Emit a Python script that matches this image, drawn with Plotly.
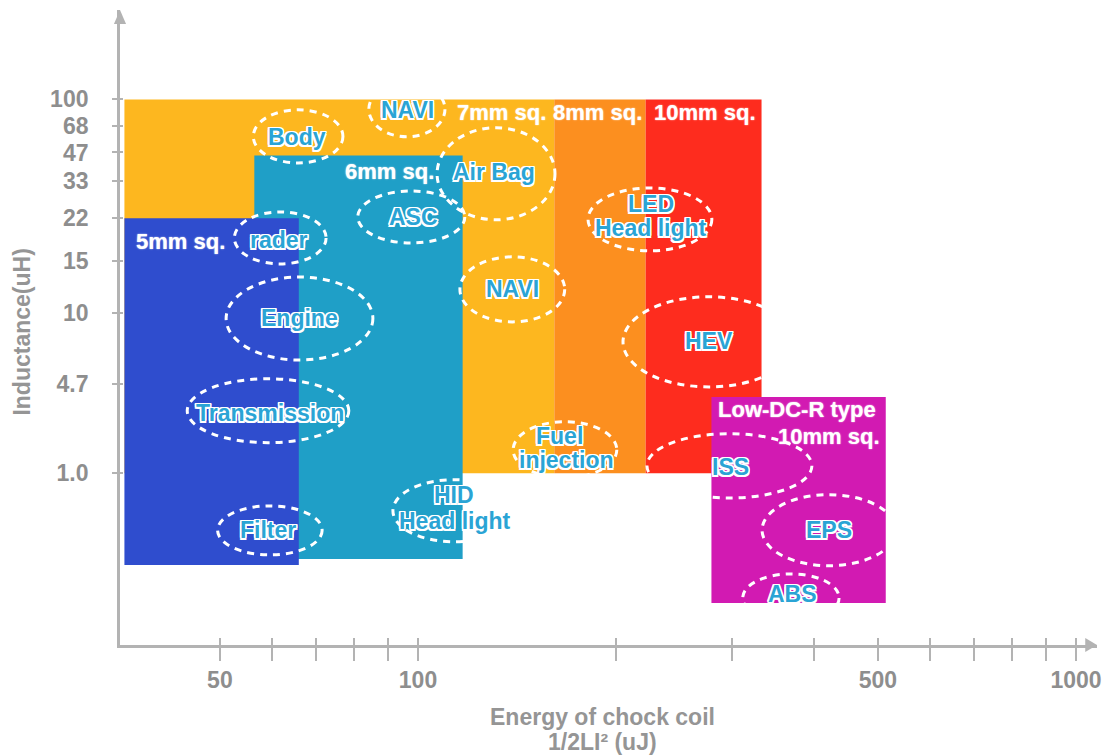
import numpy as np
import plotly.graph_objects as go

# ---------------- data ----------------
# y axis is a schematic (non-proportional) inductance scale: tick labels and their positions
y_tick_text = ["100", "68", "47", "33", "22", "15", "10", "4.7", "1.0"]
y_tick_pos = [10.0, 9.30, 8.58, 7.82, 6.82, 5.68, 4.28, 2.39, 0.0]

x_major = [50, 100, 500, 1000]
x_minor = [60, 70, 80, 90, 200, 300, 400, 600, 700, 800, 900]

# size regions (energy range uJ, schematic inductance position range)
region_names = ["7mm sq.", "8mm sq.", "10mm sq.", "6mm sq.", "5mm sq.", "Low-DC-R 10mm sq."]
region_x0 = [35.8, 161.1, 221.8, 56.4, 35.8, 279.2]
region_x1 = [161.1, 221.8, 332.7, 116.9, 65.9, 513.8]
region_y0 = [0.0, 0.0, 0.0, -2.29, -2.45, -3.47]
region_y1 = [10.0, 10.0, 10.0, 8.50, 6.82, 2.04]
region_colors = ["#FDB71F", "#FC8F1F", "#FE2C1E", "#1F9FC7", "#2F4DCE", "#D21AB2"]

# applications (dashed ellipses)
app_names = ["NAVI", "Body", "Air Bag", "ASC", "rader", "LED Head light", "Engine",
             "Transmission", "NAVI", "HEV", "Fuel injection", "ISS", "EPS", "ABS",
             "HID Head light", "Filter"]
app_x0 = [84.2, 56.2, 106.9, 81.0, 52.6, 181.3, 51.1, 44.6, 115.8, 204.9, 139.5, 222.8, 333.3, 311.5, 91.6, 49.6]
app_x1 = [109.9, 76.9, 161.5, 117.8, 72.5, 279.6, 85.4, 78.5, 167.1, 373.9, 200.5, 396.8, 532.1, 436.4, 140.4, 71.5]
app_y0 = [9.00, 8.30, 6.78, 6.16, 5.60, 5.95, 3.03, 0.82, 4.05, 2.31, -0.12, -0.66, -2.47, -3.97, -1.83, -2.18]
app_y1 = [10.47, 9.72, 9.24, 7.55, 6.99, 7.63, 5.25, 2.53, 5.79, 4.72, 1.38, 1.06, -0.57, -2.69, -0.17, -0.87]

# application text lines (light blue)
app_text = ["NAVI", "Body", "Air Bag", "ASC", "rader", "LED", "Head light", "Engine",
            "Transmission", "NAVI", "HEV", "Fuel", "injection", "ISS", "EPS", "ABS",
            "HID", "Head light", "Filter"]
app_text_x = [96.4, 65.5, 130.3, 98.3, 61.4, 226.1, 226.1, 66.1, 59.5, 139.2, 276.8,
              164.0, 168.0, 298.0, 420.6, 370.9, 113.6, 113.8, 59.2]
app_text_y = [9.72, 9.00, 8.06, 6.86, 6.24, 7.20, 6.56, 4.16, 1.62, 4.93, 3.54,
              1.00, 0.36, 0.17, -1.51, -3.22, -0.57, -1.27, -1.51]

# size labels (white)
size_text = ["7mm sq.", "8mm sq.", "10mm sq.", "6mm sq.", "5mm sq.", "Low-DC-R type", "10mm sq."]
size_text_x = [134.1, 187.7, 273.0, 90.4, 43.6, 376.7, 507.3]
size_text_y = [9.64, 9.64, 9.64, 8.06, 6.19, 1.70, 0.98]
size_text_anchor = ["center", "center", "center", "center", "center", "center", "right"]

# ---------------- figure ----------------
X_RANGE = [np.log10(35.25), np.log10(1076.0)]
Y_RANGE = [-4.59, 12.39]
AX_COLOR = "#b3b3b3"
FAMILY = "Liberation Sans, Arial, sans-serif"
TICK_FONT = dict(family=FAMILY, size=23, color="#8e8e8e", weight="bold")
TITLE_FONT = dict(family=FAMILY, size=23, color="#959595", weight="bold")

fig = go.Figure()
# invisible traces to set up the axes
fig.add_trace(go.Scatter(x=[x_major[0]], y=[y_tick_pos[0]], mode="markers",
                         marker=dict(opacity=0), hoverinfo="skip", showlegend=False))
fig.add_trace(go.Scatter(x=[x_major[0]], y=[y_tick_pos[0]], mode="markers", xaxis="x2", yaxis="y2",
                         marker=dict(opacity=0), hoverinfo="skip", showlegend=False))

shapes = []
for x0, x1, y0, y1, c in zip(region_x0, region_x1, region_y0, region_y1, region_colors):
    shapes.append(dict(type="rect", xref="x", yref="y", x0=x0, x1=x1, y0=y0, y1=y1,
                       fillcolor=c, line=dict(width=0), layer="above"))
for x0, x1, y0, y1 in zip(app_x0, app_x1, app_y0, app_y1):
    shapes.append(dict(type="circle", xref="x", yref="y", x0=x0, x1=x1, y0=y0, y1=y1,
                       line=dict(color="white", width=3, dash="7px,6px"),
                       fillcolor="rgba(0,0,0,0)", layer="above"))
# axis arrow heads
shapes.append(dict(type="path", xref="paper", yref="paper",
                   path="M -0.0062 0.978 L 0.0062 0.978 L 0 1 Z",
                   fillcolor=AX_COLOR, line=dict(width=0)))
shapes.append(dict(type="path", xref="paper", yref="paper",
                   path="M 0.988 0.011 L 0.988 -0.011 L 1 0 Z",
                   fillcolor=AX_COLOR, line=dict(width=0)))

outline = ("-1.5px -1.5px 0 #fff, 1.5px -1.5px 0 #fff, -1.5px 1.5px 0 #fff, 1.5px 1.5px 0 #fff,"
           " 0 -1.5px 0 #fff, 0 1.5px 0 #fff, 1.5px 0 0 #fff, -1.5px 0 0 #fff")
annotations = []
for t, x, y in zip(app_text, app_text_x, app_text_y):
    annotations.append(dict(text=t, x=np.log10(x), y=y, xref="x", yref="y", showarrow=False,
                            xanchor="center", yanchor="middle",
                            font=dict(family=FAMILY, size=23, color="#2AA4D5", weight="bold",
                                      shadow=outline)))
for t, x, y, a in zip(size_text, size_text_x, size_text_y, size_text_anchor):
    annotations.append(dict(text=t, x=np.log10(x), y=y, xref="x", yref="y", showarrow=False,
                            xanchor=a, yanchor="middle",
                            font=dict(family=FAMILY, size=22, color="white", weight="bold",
                                      shadow="0 0 1.5px rgba(255,255,255,0.9)")))
# axis titles
annotations.append(dict(text="Inductance(uH)", x=-0.1003, y=0.492, xref="paper", yref="paper",
                        showarrow=False, textangle=-90, xanchor="center", yanchor="middle",
                        font=TITLE_FONT))
annotations.append(dict(text="Energy of chock coil", x=0.494, y=-0.113, xref="paper", yref="paper",
                        showarrow=False, xanchor="center", yanchor="middle", font=TITLE_FONT))
annotations.append(dict(text="1/2LI² (uJ)", x=0.494, y=-0.153, xref="paper", yref="paper",
                        showarrow=False, xanchor="center", yanchor="middle", font=TITLE_FONT))

all_x_ticks = x_major + x_minor
all_x_text = [str(v) for v in x_major] + [""] * len(x_minor)
pad = "\u00a0\u00a0\u00a0"

fig.update_layout(
    width=1111, height=756,
    margin=dict(l=120, r=14, t=10, b=111),
    paper_bgcolor="white", plot_bgcolor="white",
    showlegend=False,
    shapes=shapes, annotations=annotations,
    xaxis=dict(type="log", range=X_RANGE, showgrid=False, zeroline=False,
               showline=True, linecolor=AX_COLOR, linewidth=2.5,
               tickmode="array", tickvals=all_x_ticks, ticktext=all_x_text,
               ticks="outside", ticklen=13, tickwidth=2, tickcolor=AX_COLOR,
               tickfont=TICK_FONT),
    xaxis2=dict(type="log", range=X_RANGE, overlaying="x", anchor="y", side="bottom",
                showgrid=False, zeroline=False, showline=False,
                tickmode="array", tickvals=all_x_ticks, ticks="inside", ticklen=7,
                tickwidth=2, tickcolor=AX_COLOR, showticklabels=False),
    yaxis=dict(range=Y_RANGE, showgrid=False, zeroline=False,
               showline=True, linecolor=AX_COLOR, linewidth=2.5,
               tickmode="array", tickvals=y_tick_pos, ticktext=[t + pad for t in y_tick_text],
               ticks="outside", ticklen=5, tickwidth=2, tickcolor=AX_COLOR,
               tickfont=TICK_FONT),
    yaxis2=dict(range=Y_RANGE, overlaying="y", anchor="x", side="left",
                showgrid=False, zeroline=False, showline=False,
                tickmode="array", tickvals=y_tick_pos, ticks="inside", ticklen=3,
                tickwidth=2, tickcolor=AX_COLOR, showticklabels=False),
)

fig.write_html("out.html", config={"displayModeBar": False},
               post_script="document.body.style.margin='0';document.body.style.overflow='hidden';")
